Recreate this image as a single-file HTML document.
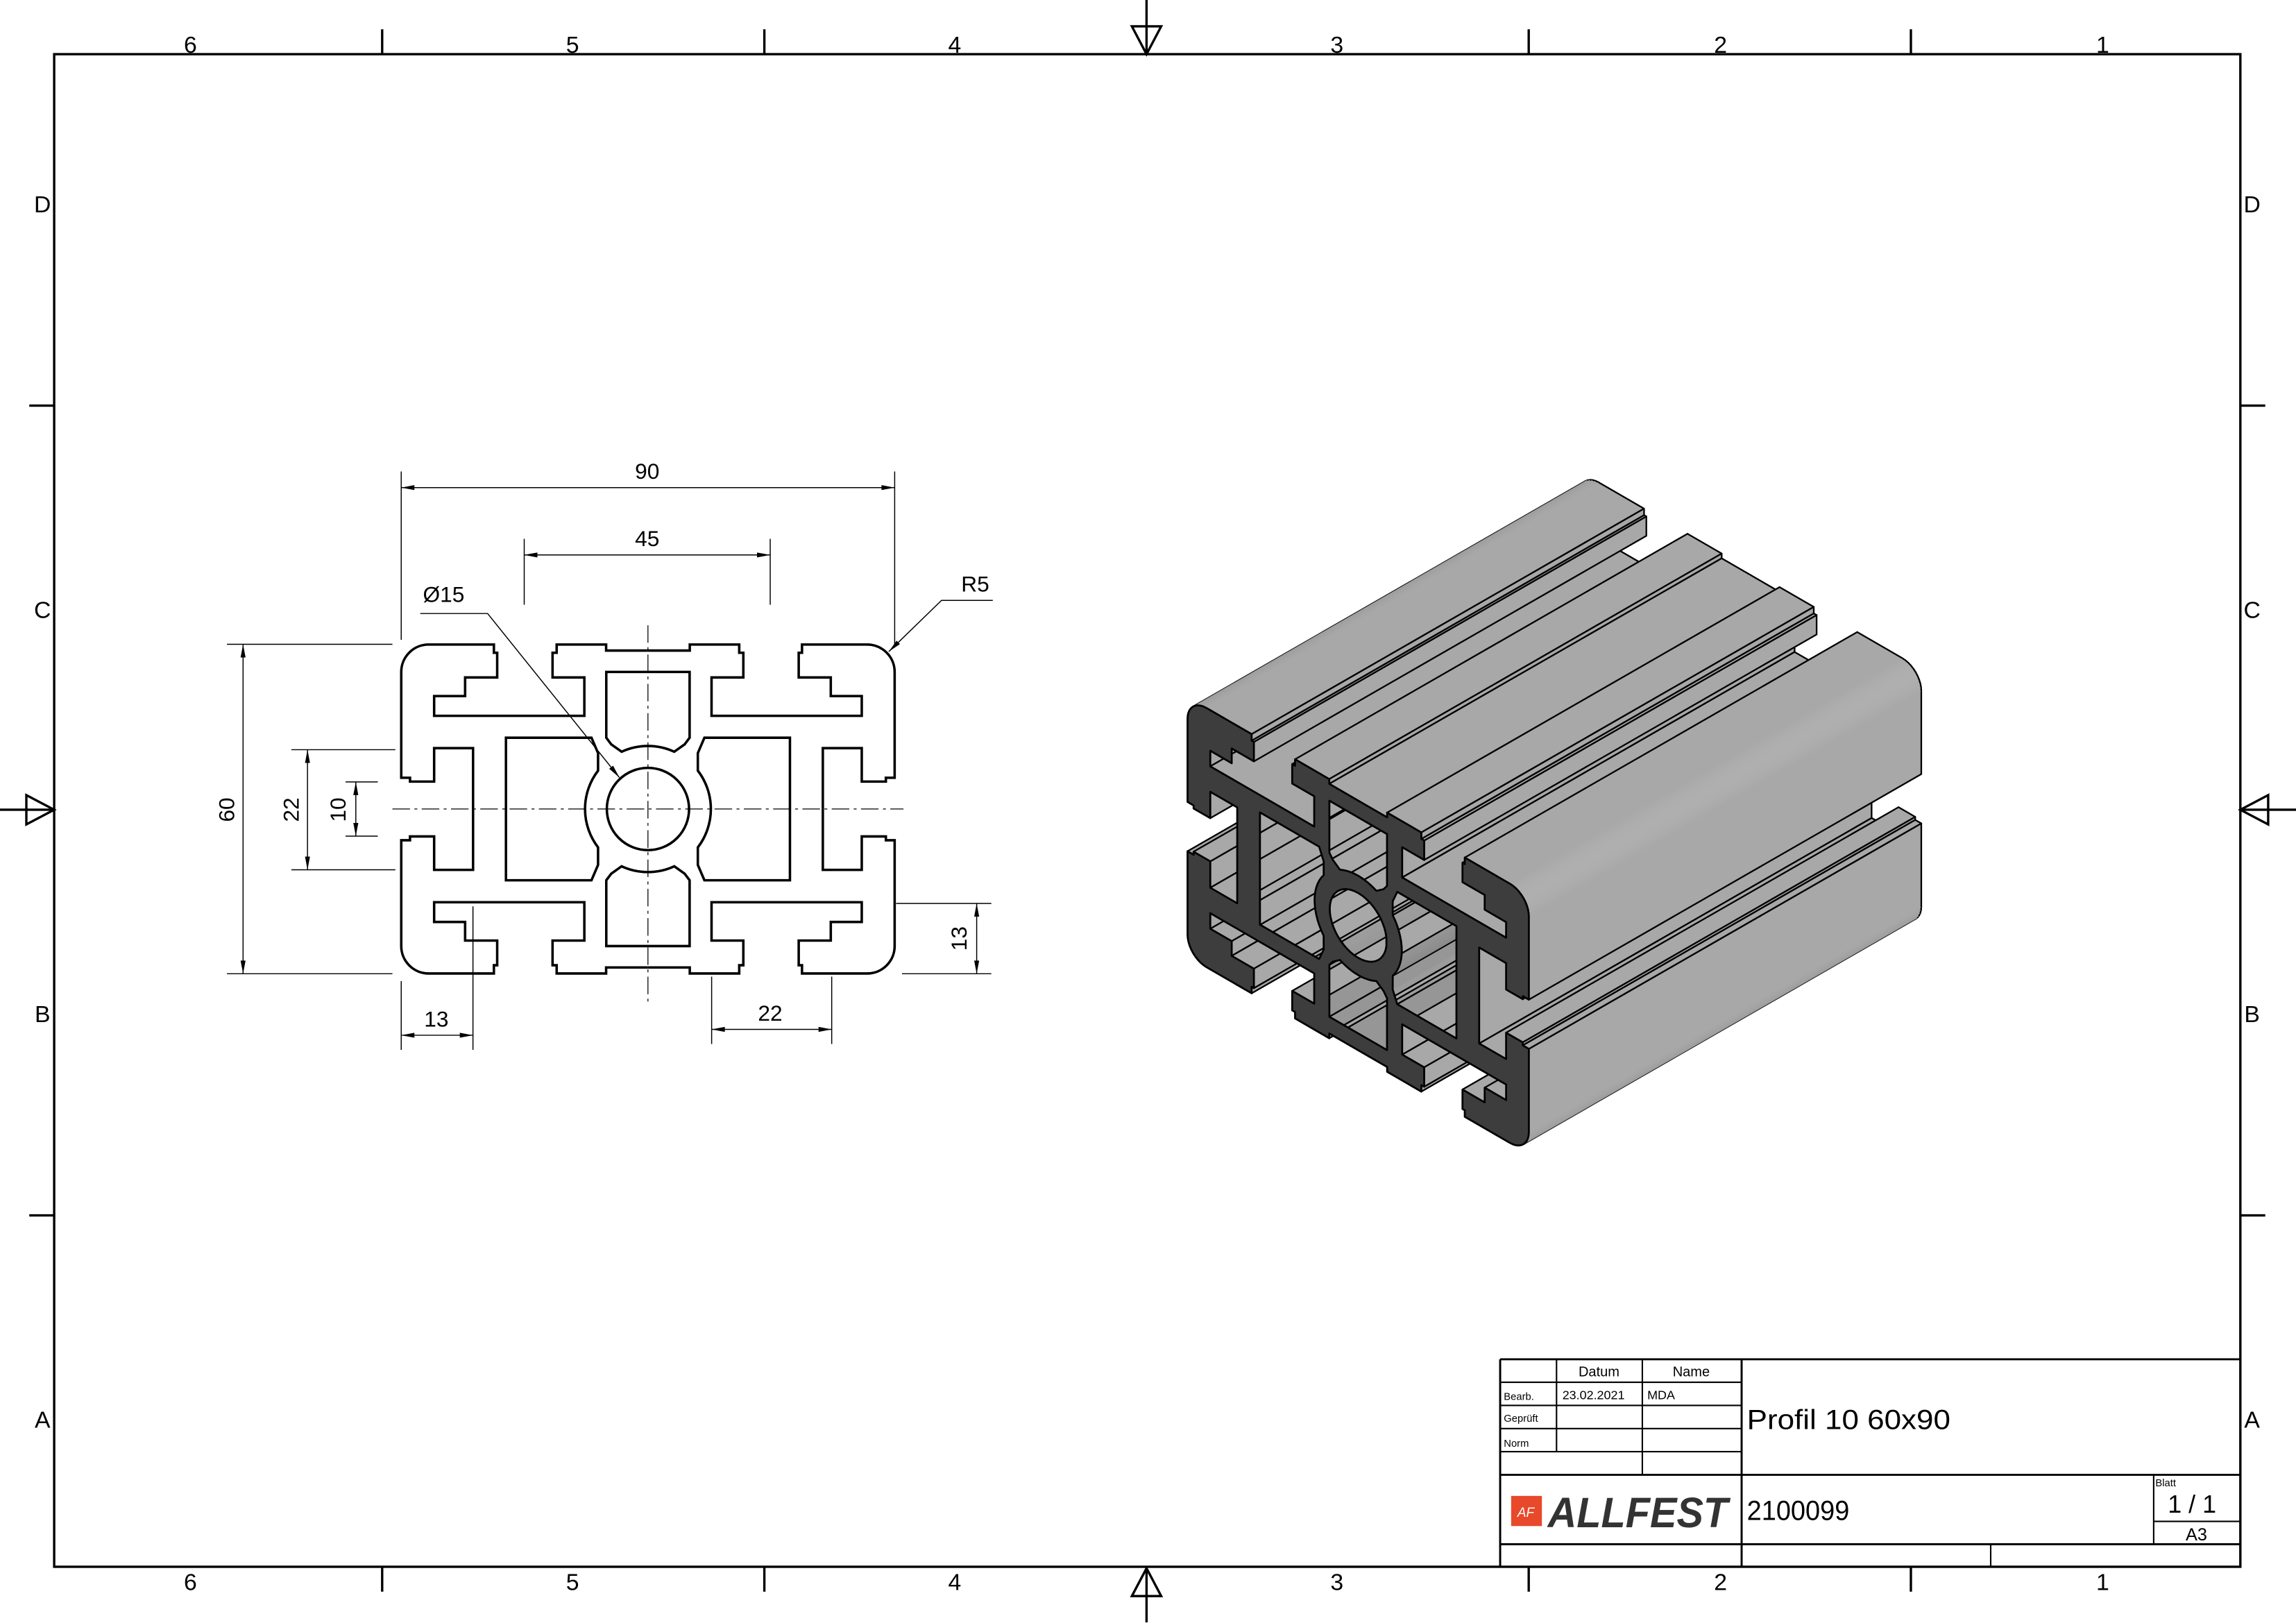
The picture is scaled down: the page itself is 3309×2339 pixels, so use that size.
<!DOCTYPE html>
<html><head><meta charset="utf-8">
<style>
html,body{margin:0;padding:0;background:#fff;}
svg{display:block;}
text{font-family:"Liberation Sans","DejaVu Sans",sans-serif;fill:#000;}
</style></head>
<body>
<svg id="s" xmlns="http://www.w3.org/2000/svg" width="3309" height="2339" viewBox="0 0 1568 1108.4" preserveAspectRatio="none">
<rect x="0" y="0" width="1568" height="1108.4" fill="#fff"/>
<!-- frame -->
<g stroke="#000" fill="none">
<rect x="37" y="37" width="1493" height="1033" stroke-width="1.6"/>
<g stroke-width="1.6">
<line x1="261" y1="20" x2="261" y2="37"/><line x1="522" y1="20" x2="522" y2="37"/><line x1="1044" y1="20" x2="1044" y2="37"/><line x1="1305" y1="20" x2="1305" y2="37"/>
<line x1="261" y1="1070" x2="261" y2="1087"/><line x1="522" y1="1070" x2="522" y2="1087"/><line x1="1044" y1="1070" x2="1044" y2="1087"/><line x1="1305" y1="1070" x2="1305" y2="1087"/>
<line x1="20" y1="277" x2="37" y2="277"/><line x1="20" y1="830" x2="37" y2="830"/>
<line x1="1530" y1="277" x2="1547" y2="277"/><line x1="1530" y1="830" x2="1547" y2="830"/>
<line x1="783" y1="0" x2="783" y2="37"/><polygon points="773,18 793,18 783,37"/>
<line x1="783" y1="1071" x2="783" y2="1108"/><polygon points="773,1090 793,1090 783,1071"/>
<line x1="0" y1="553" x2="37" y2="553"/><polygon points="18,543 18,563 37,553"/>
<line x1="1530" y1="553" x2="1568" y2="553"/><polygon points="1549,543 1549,563 1530,553"/>
</g></g>
<g font-size="16" text-anchor="middle">
<text x="130" y="36">6</text><text x="391" y="36">5</text><text x="652" y="36">4</text><text x="913" y="36">3</text><text x="1175" y="36">2</text><text x="1436" y="36">1</text>
<text x="130" y="1086">6</text><text x="391" y="1086">5</text><text x="652" y="1086">4</text><text x="913" y="1086">3</text><text x="1175" y="1086">2</text><text x="1436" y="1086">1</text>
<text x="29" y="145">D</text><text x="29" y="422">C</text><text x="29" y="698">B</text><text x="29" y="975">A</text>
<text x="1538" y="145">D</text><text x="1538" y="422">C</text><text x="1538" y="698">B</text><text x="1538" y="975">A</text>
</g>

<!-- 2D section -->
<defs>
<path id="q" d="M0,-28.9 L-7.63,-28.9 L-7.63,-30 L-16.65,-30 L-16.65,-28.5 L-17.4,-28.5 L-17.4,-24 L-11.6,-24 L-11.6,-17 L-39,-17 L-39,-20.6 L-33.35,-20.6 L-33.35,-24 L-27.5,-24 L-27.5,-28.5 L-28.1,-28.5 L-28.1,-30 L-40,-30 A5,5 0 0 0 -45,-25 L-45,-5.7 L-43.4,-5.7 L-43.4,-5 L-39,-5 L-39,-11.1 L-31.9,-11.1 L-31.9,0"/>
<path id="tc" d="M-7.6,-25 L7.6,-25 L7.6,-13 L6.7,-11.8 L4.8,-10.45 A11.5,11.5 0 0 0 -4.8,-10.45 L-6.7,-11.8 L-7.6,-13 Z"/>
<path id="lc" d="M-25.9,-13 L-10.3,-13 L-9.1,-10.2 L-9.1,-7 A11.5,11.5 0 0 0 -9.1,7 L-9.1,10.2 L-10.3,13 L-25.9,13 Z"/>
</defs>
<g transform="translate(442.5,552.5) scale(3.744)" fill="none" stroke="#000" stroke-width="0.45" stroke-linejoin="miter">
<use href="#q"/><use href="#q" transform="scale(-1,1)"/><use href="#q" transform="scale(1,-1)"/><use href="#q" transform="scale(-1,-1)"/>
<use href="#tc"/><use href="#tc" transform="scale(1,-1)"/>
<use href="#lc"/><use href="#lc" transform="scale(-1,1)"/>
<circle cx="0" cy="0" r="7.5"/>
</g>
<!-- center lines -->
<g stroke="#000" stroke-width="0.6" stroke-dasharray="12 3 2 3" fill="none">
<line x1="268" y1="552.5" x2="617" y2="552.5"/>
<line x1="442.5" y1="427" x2="442.5" y2="684"/>
</g>
<!-- dimensions -->
<g stroke="#000" stroke-width="0.7" fill="none">
<line x1="274" y1="333" x2="611" y2="333"/><line x1="274" y1="322" x2="274" y2="437"/><line x1="611" y1="322" x2="611" y2="440"/>
<line x1="358" y1="379" x2="526" y2="379"/><line x1="358" y1="368" x2="358" y2="413"/><line x1="526" y1="368" x2="526" y2="413"/>
<line x1="166" y1="440" x2="166" y2="665"/><line x1="155" y1="440" x2="268" y2="440"/><line x1="155" y1="665" x2="268" y2="665"/>
<line x1="210" y1="512" x2="210" y2="594"/><line x1="199" y1="512" x2="270" y2="512"/><line x1="199" y1="594" x2="270" y2="594"/>
<line x1="243" y1="534" x2="243" y2="571"/><line x1="236" y1="534" x2="258" y2="534"/><line x1="236" y1="571" x2="258" y2="571"/>
<line x1="274" y1="707" x2="323" y2="707"/><line x1="274" y1="670" x2="274" y2="717"/><line x1="323" y1="619" x2="323" y2="717"/>
<line x1="486" y1="703" x2="568" y2="703"/><line x1="486" y1="667" x2="486" y2="713"/><line x1="568" y1="667" x2="568" y2="713"/>
<line x1="667" y1="617" x2="667" y2="665"/><line x1="612" y1="617" x2="677" y2="617"/><line x1="616" y1="665" x2="677" y2="665"/>
<polyline points="287,419 333,419 423,531"/>
<polyline points="678,410 643,410 607,445"/>
</g>
<g fill="#000">
<polygon points="274,333 283,331.3 283,334.7"/><polygon points="611,333 602,331.3 602,334.7"/>
<polygon points="358,379 367,377.3 367,380.7"/><polygon points="526,379 517,377.3 517,380.7"/>
<polygon points="166,440 164.3,449 167.7,449"/><polygon points="166,665 164.3,656 167.7,656"/>
<polygon points="210,512 208.3,521 211.7,521"/><polygon points="210,594 208.3,585 211.7,585"/>
<polygon points="243,534 241.3,543 244.7,543"/><polygon points="243,571 241.3,562 244.7,562"/>
<polygon points="274,707 283,705.3 283,708.7"/><polygon points="323,707 314,705.3 314,708.7"/>
<polygon points="486,703 495,701.3 495,704.7"/><polygon points="568,703 559,701.3 559,704.7"/>
<polygon points="667,617 665.3,626 668.7,626"/><polygon points="667,665 665.3,656 668.7,656"/>
<polygon points="423,531 418.7,522.9 416.0,525.0"/>
<polygon points="607,445 614.6,439.9 612.3,437.5"/>
</g>
<g font-size="15" text-anchor="middle">
<text x="442" y="327">90</text>
<text x="442" y="373">45</text>
<text x="303" y="411">Ø15</text>
<text x="666" y="404">R5</text>
<text x="298" y="701">13</text>
<text x="526" y="697">22</text>
<text transform="translate(160,553) rotate(-90)">60</text>
<text transform="translate(204,553) rotate(-90)">22</text>
<text transform="translate(236,553) rotate(-90)">10</text>
<text transform="translate(660,641) rotate(-90)">13</text>
</g>

<!-- 3D view -->
<g id="iso"></g>

<!-- title block -->
<g stroke="#000" fill="none">
<g stroke-width="1.4">
<line x1="1024.5" y1="928.3" x2="1530" y2="928.3"/>
<line x1="1024.5" y1="928.3" x2="1024.5" y2="1070"/>
<line x1="1189.4" y1="928.3" x2="1189.4" y2="1070"/>
<line x1="1024.5" y1="1007.2" x2="1530" y2="1007.2"/>
<line x1="1024.5" y1="1054.6" x2="1530" y2="1054.6"/>
</g>
<g stroke-width="1">
<line x1="1024.5" y1="944" x2="1189.4" y2="944"/>
<line x1="1024.5" y1="959.8" x2="1189.4" y2="959.8"/>
<line x1="1024.5" y1="975.6" x2="1189.4" y2="975.6"/>
<line x1="1024.5" y1="991.4" x2="1189.4" y2="991.4"/>
<line x1="1063" y1="928.3" x2="1063" y2="991.4"/>
<line x1="1121.6" y1="928.3" x2="1121.6" y2="1007.2"/>
<line x1="1359.5" y1="1054.6" x2="1359.5" y2="1070"/>
<line x1="1470.8" y1="1007.2" x2="1470.8" y2="1054.6"/>
<line x1="1470.8" y1="1039" x2="1530" y2="1039"/>
</g></g>
<g>
<text x="1092" y="940" font-size="9.5" text-anchor="middle">Datum</text>
<text x="1155" y="940" font-size="9.5" text-anchor="middle">Name</text>
<text x="1027" y="956" font-size="7">Bearb.</text>
<text x="1067" y="955.5" font-size="8.5">23.02.2021</text>
<text x="1125" y="955.5" font-size="8.5">MDA</text>
<text x="1027" y="971" font-size="7">Geprüft</text>
<text x="1027" y="988" font-size="7">Norm</text>
<text x="1193" y="976" font-size="19" textLength="139" lengthAdjust="spacingAndGlyphs">Profil 10 60x90</text>
<text x="1193" y="1038" font-size="19" textLength="70" lengthAdjust="spacingAndGlyphs">2100099</text>
<text x="1472" y="1015" font-size="7">Blatt</text>
<text x="1497" y="1033" font-size="17" text-anchor="middle">1 / 1</text>
<text x="1500" y="1052" font-size="12" text-anchor="middle">A3</text>
<rect x="1032" y="1021.6" width="21" height="20.6" fill="#e8492a"/>
<text x="1042" y="1036" font-size="9" font-style="italic" fill="#fff" text-anchor="middle" style="fill:#fff">AF</text>
<text x="1057" y="1043" font-size="29" font-weight="bold" font-style="italic" style="fill:#333" textLength="123" lengthAdjust="spacingAndGlyphs">ALLFEST</text>
</g>
</svg>
<script>
(function(){
var NS='http://www.w3.org/2000/svg';
var g=document.getElementById('iso');
function arc(cx,cy,r,a0,a1,n){var p=[];for(var i=1;i<=n;i++){var a=(a0+(a1-a0)*i/n)*Math.PI/180;p.push([cx+r*Math.cos(a),cy+r*Math.sin(a)]);}return p;}
var Q=[[0,-28.9],[-7.63,-28.9],[-7.63,-30],[-16.65,-30],[-16.65,-28.5],[-17.4,-28.5],[-17.4,-24],[-11.6,-24],[-11.6,-17],[-39,-17],[-39,-20.6],[-33.35,-20.6],[-33.35,-24],[-27.5,-24],[-27.5,-28.5],[-28.1,-28.5],[-28.1,-30],[-40,-30]];
Q=Q.concat(arc(-40,-25,5,-90,-180,10));
Q=Q.concat([[-45,-5.7],[-43.4,-5.7],[-43.4,-5],[-39,-5],[-39,-11.1],[-31.9,-11.1],[-31.9,0]]);
var Q2=Q.slice().reverse().map(function(p){return [p[0],-p[1]];});
var Q3=Q.map(function(p){return [-p[0],-p[1]];});
var Q4=Q.slice().reverse().map(function(p){return [-p[0],p[1]];});
var outer=Q.concat(Q2.slice(1),Q3.slice(1),Q4.slice(1,-1));
var tc=[[-7.6,-25],[7.6,-25],[7.6,-13],[6.7,-11.8],[4.8,-10.45]].concat(arc(0,0,11.5,-65.3,-114.7,12)).concat([[-6.7,-11.8],[-7.6,-13]]);
var bc=tc.map(function(p){return [p[0],-p[1]];});
var lc=[[-25.9,-13],[-10.3,-13],[-9.1,-10.2],[-9.1,-7]].concat(arc(0,0,11.5,-142.4,-217.6,14)).concat([[-9.1,10.2],[-10.3,13],[-25.9,13]]);
var rc=lc.map(function(p){return [-p[0],p[1]];});
var ci=arc(0,0,7.5,0,360,48).slice(0,-1);
var loops=[{p:outer,h:false},{p:tc,h:true},{p:bc,h:true},{p:lc,h:true},{p:rc,h:true},{p:ci,h:true}];
var O=[811,476],E=[268,-154];
function P(p,t){return [O[0]+(p[0]+45)*2.59+t*E[0], O[1]+(p[0]+45)*1.5+(p[1]+30)*2.95+t*E[1]];}
function f(a){return a[0].toFixed(2)+','+a[1].toFixed(2);}
var faces=[];
loops.forEach(function(L){
  var p=L.p,n=p.length,s=0;
  for(var i=0;i<n;i++){var a=p[i],b=p[(i+1)%n];s+=a[0]*b[1]-b[0]*a[1];}
  var sign=(s>0?1:-1)*(L.h?-1:1);
  var nr=[],vis=[];
  for(var i=0;i<n;i++){var a=p[i],b=p[(i+1)%n];var dx=b[0]-a[0],dy=b[1]-a[1],l=Math.hypot(dx,dy);
    var nx=sign*dy/l,ny=-sign*dx/l;nr.push([nx,ny]);vis.push(nx-ny>0.002);}
  for(var i=0;i<n;i++){
    if(!vis[i])continue;
    var a=p[i],b=p[(i+1)%n];
    var ip=(i-1+n)%n,inx=(i+1)%n;
    var c1=nr[ip][0]*nr[i][0]+nr[ip][1]*nr[i][1];
    var c2=nr[inx][0]*nr[i][0]+nr[inx][1]*nr[i][1];
    var e1=(c1<0.9)||!vis[ip], e2=(c2<0.9)||!vis[inx];
    var d=(a[0]+b[0])/2-(a[1]+b[1])/2;
    var gg=150+25*(nr[i][0]*0.707-nr[i][1]*0.707);
    if(L.h)gg-=18;
    faces.push({a:a,b:b,e1:e1,e2:e2,d:d,h:L.h,g:Math.round(gg)});
  }
});
faces.sort(function(x,y){if(x.h!==y.h)return x.h?-1:1;return x.d-y.d;});
var html='';
faces.forEach(function(F){
  var A0=P(F.a,0),B0=P(F.b,0),B1=P(F.b,1),A1=P(F.a,1);
  var c='rgb('+F.g+','+F.g+','+F.g+')';
  html+='<polygon points="'+f(A0)+' '+f(B0)+' '+f(B1)+' '+f(A1)+'" fill="'+c+'" stroke="'+c+'" stroke-width="0.7"/>';
  html+='<line x1="'+A1[0].toFixed(2)+'" y1="'+A1[1].toFixed(2)+'" x2="'+B1[0].toFixed(2)+'" y2="'+B1[1].toFixed(2)+'" stroke="#000" stroke-width="1.1" stroke-linecap="round"/>';
  if(F.e1)html+='<line x1="'+A0[0].toFixed(2)+'" y1="'+A0[1].toFixed(2)+'" x2="'+A1[0].toFixed(2)+'" y2="'+A1[1].toFixed(2)+'" stroke="#000" stroke-width="1.1"/>';
  if(F.e2)html+='<line x1="'+B0[0].toFixed(2)+'" y1="'+B0[1].toFixed(2)+'" x2="'+B1[0].toFixed(2)+'" y2="'+B1[1].toFixed(2)+'" stroke="#000" stroke-width="1.1"/>';
});
var d='';
loops.forEach(function(L){d+='M'+L.p.map(function(q){return f(P(q,0));}).join(' L')+' Z ';});
html+='<path d="'+d+'" fill="#3d3d3d" fill-rule="evenodd" stroke="#000" stroke-width="1.3" stroke-linejoin="round"/>';
g.innerHTML=html;
})();
</script>
</body></html>
